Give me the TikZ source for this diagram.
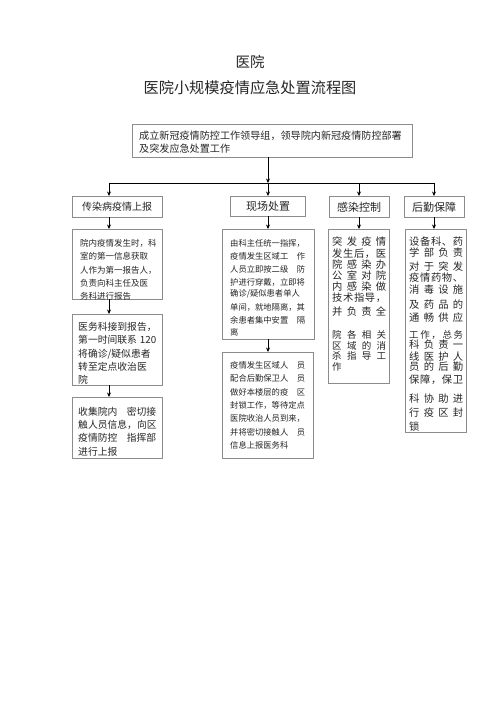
\documentclass[tikz,border=0pt]{standalone}
\usepackage{fontspec}
\setmainfont{Noto Sans CJK SC}
\usetikzlibrary{arrows.meta,shadows}
\makeatletter
\def\spr#1{\spr@a#1\relax}
\def\spr@a#1{\ifx\relax#1\else#1\expandafter\spr@b\fi}
\def\spr@b#1{\ifx\relax#1\else\hfill#1\expandafter\spr@b\fi}
\makeatother
\newcommand\jline[2]{\makebox[#1][s]{\expandafter\spr\expandafter{#2}}}
\newcommand\fline[2]{\makebox[#1][s]{#2}}
\begin{document}
\begin{tikzpicture}[x=1pt,y=-1pt,
  bx/.style={draw=black!45, line width=0.6pt, fill=white, inner sep=0pt, outer sep=0pt, anchor=north west,
    drop shadow={shadow xshift=0.8pt, shadow yshift=-0.8pt, fill=black!80, opacity=1}},
  ln/.style={anchor=west, inner sep=0pt, text=black!85},
  lab/.style={inner sep=0pt, text=black!85},
  arr/.style={draw=black, line width=0.8pt, -{Stealth[length=4.5pt,width=4pt]}},
  conn/.style={draw=black, line width=0.8pt}]
\useasboundingbox[fill=white] (0,0) rectangle (500,707);

% titles
\node[lab, font=\fontsize{14.5}{16}\selectfont] (t1) at (250,62) {医院};
\node[lab, font=\fontsize{15.2}{17}\selectfont] (t2) at (250,88) {医院小规模疫情应急处置流程图};

% boxes
\node[bx, minimum width=280pt, minimum height=33pt] (top) at (132,124) {};
\node[bx, minimum width=90pt, minimum height=21pt] (b1) at (72,196) {};
\node[bx, minimum width=75pt, minimum height=20pt] (b2) at (230,196) {};
\node[bx, minimum width=60pt, minimum height=21pt] (b3) at (329,196) {};
\node[bx, minimum width=60pt, minimum height=21pt] (b4) at (404,196) {};
\node[bx, minimum width=90pt, minimum height=70pt] (A) at (72,229) {};
\node[bx, minimum width=90pt, minimum height=71pt] (B) at (72,314) {};
\node[bx, minimum width=90pt, minimum height=61pt] (C) at (72,397) {};
\node[bx, minimum width=92pt, minimum height=110pt] (D) at (222,229) {};
\node[bx, minimum width=91pt, minimum height=106pt] (E) at (222,352) {};
\node[bx, minimum width=61pt, minimum height=154pt] (F) at (328,229) {};
\node[bx, minimum width=61pt, minimum height=203pt] (G) at (405,229) {};

% top text
\node[ln, font=\fontsize{10.1}{12}\selectfont] (topl1) at (139,136) {成立新冠疫情防控工作领导组，领导院内新冠疫情防控部署};
\node[ln, font=\fontsize{10.1}{12}\selectfont] (topl2) at (139,149) {及突发应急处置工作};

% row labels
\node[lab, font=\fontsize{10}{12}\selectfont] (b1t) at (117,207) {传染病疫情上报};
\node[lab, font=\fontsize{11}{12}\selectfont] (b2t) at (268,206) {现场处置};
\node[lab, font=\fontsize{11}{12}\selectfont] (b3t) at (359,207) {感染控制};
\node[lab, font=\fontsize{11}{12}\selectfont] (b4t) at (434,207) {后勤保障};

% box A
\foreach \y/\tx [count=\i] in {243/{院内疫情发生时，科},256/{室的第一信息获取},270/{人作为第一报告人，},283/{负责向科主任及医},296/{务科进行报告}}
  \node[ln, font=\fontsize{8.5}{10}\selectfont] (A\i) at (80,\y) {\tx};
% box B
\foreach \y/\tx [count=\i] in {327/{医务科接到报告，},340/{第一时间联系 120},354/{将确诊/疑似患者},367/{转至定点收治医},380/{院}}
  \node[ln, font=\fontsize{9.8}{11}\selectfont] (B\i) at (78,\y) {\fline{78pt}{\tx}};
% box C
\foreach \y/\tx [count=\i] in {412/{收集院内\hfill 密切接},425/{触人员信息，向区},438/{疫情防控\hfill 指挥部},452/{进行上报}}
  \node[ln, font=\fontsize{9.8}{11}\selectfont] (C\i) at (78,\y) {\fline{78pt}{\tx}};
% box D
\foreach \y/\tx [count=\i] in {243/{由科主任统一指挥，},256/{疫情发生区域工\hfill 作},269/{人员立即按二级\hfill 防},282/{护进行穿戴，立即将},294/{确诊/疑似患者单人},307/{单间，就地隔离，其},320/{余患者集中安置\hfill 隔},332/{离}}
  \node[ln, font=\fontsize{8.3}{10}\selectfont] (D\i) at (230,\y) {\fline{75pt}{\tx}};
% box E
\foreach \y/\tx [count=\i] in {365/{疫情发生区域人\hfill 员},378/{配合后勤保卫人\hfill 员},392/{做好本楼层的疫\hfill 区},405/{封锁工作，等待定点},418/{医院收治人员到来，},432/{并将密切接触人\hfill 员},445/{信息上报医务科}}
  \node[ln, font=\fontsize{8.3}{10}\selectfont] (E\i) at (230,\y) {\fline{75pt}{\tx}};
% box F
\foreach \y/\tx [count=\i] in {242/{突发疫情},254/{发生后，医},265/{院感染办},276/{公室对院},287/{内感染做},298/{技术指导，},312/{并负责全}}
  \node[ln, font=\fontsize{10.3}{11}\selectfont] (F\i) at (332,\y) {\jline{54pt}{\tx}};
\foreach \y/\tx [count=\i] in {335/{院各相关},346/{区域的消},356/{杀指导工},367/{作}}
  \node[ln, font=\fontsize{9.5}{11}\selectfont] (Fs\i) at (332,\y) {\jline{54pt}{\tx}};
% box G
\foreach \y/\tx [count=\i] in {242/{设备科、药},253/{学部负责},267/{对于突发},278/{疫情药物、},290/{消毒设施},305/{及药品的},318/{通畅供应},345/{科负责一},357/{线医护人},367/{员的后勤},380/{保障，保卫},399/{科协助进},413/{行疫区封},427/{锁}}
  \node[ln, font=\fontsize{10.3}{11}\selectfont] (G\i) at (409,\y) {\jline{54pt}{\tx}};
\node[ln, font=\fontsize{9.5}{11}\selectfont] (Gs) at (409,335) {\jline{54pt}{工作，总务}};

% connectors
\coordinate (j) at (268,183);
\coordinate (hl) at (109,183);
\coordinate (h3) at (359,183);
\coordinate (hr) at (434,183);
\draw[arr] (top.south -| j) -- (j);
\draw[conn] (hl) -- (hr);
\draw[arr] (hl) -- (hl |- b1.north);
\draw[arr] (j) -- (j |- b2.north);
\draw[arr] (h3) -- (h3 |- b3.north);
\draw[arr] (hr) -- (hr |- b4.north);
\draw[arr] (hl |- b1.south) -- (hl |- A.north);
\draw[arr] (hl |- A.south) -- (hl |- B.north);
\draw[arr] (hl |- B.south) -- (hl |- C.north);
\draw[arr] (j |- b2.south) -- (j |- D.north);
\draw[arr] (j |- D.south) -- (j |- E.north);
\draw[arr] (h3 |- b3.south) -- (h3 |- F.north);
\draw[arr] (hr |- b4.south) -- (hr |- G.north);
\end{tikzpicture}
\end{document}
